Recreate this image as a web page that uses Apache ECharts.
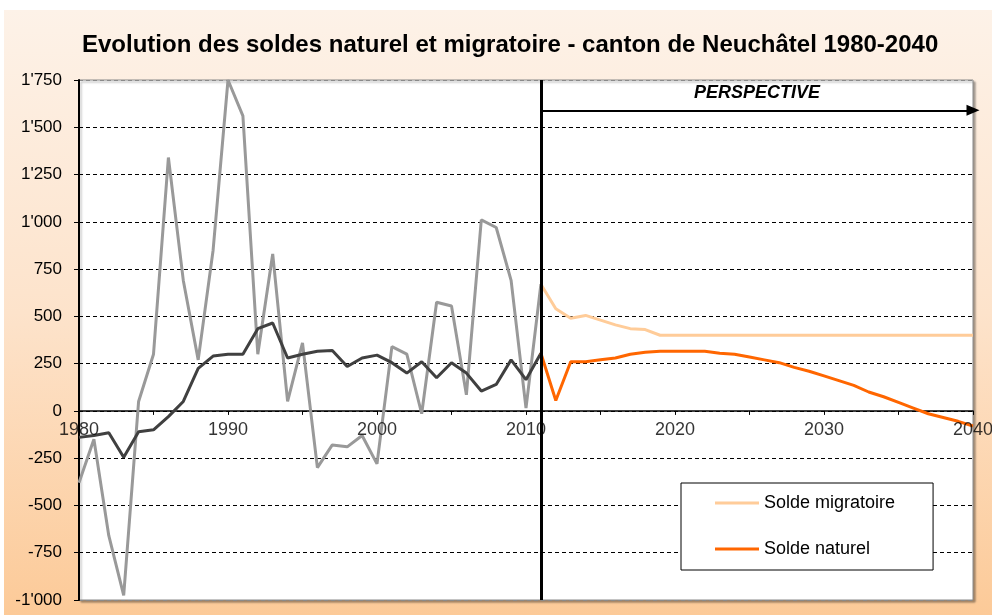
<!DOCTYPE html>
<html>
<head>
<meta charset="utf-8">
<script src="https://cdn.jsdelivr.net/npm/echarts@6/dist/echarts.min.js"></script>
<style>
html,body{margin:0;padding:0;background:#fff;}
#chart{position:absolute;left:4px;top:10px;width:988px;height:605px;
background:linear-gradient(to bottom,#fdf2e8 0%,#fde3cb 50%,#fcca98 100%);}
</style>
</head>
<body>
<div id="chart"></div>
<script>
// Historical years 1980-2011
var histYears = [1980,1981,1982,1983,1984,1985,1986,1987,1988,1989,1990,1991,1992,1993,1994,1995,1996,1997,1998,1999,2000,2001,2002,2003,2004,2005,2006,2007,2008,2009,2010,2011];
var histMigratoire = [-380,-150,-660,-975,50,300,1340,690,270,850,1750,1560,300,830,50,360,-300,-180,-190,-130,-280,340,300,-15,575,555,85,1010,970,690,15,670];
var histNaturel = [-140,-130,-115,-245,-110,-100,-30,50,225,290,300,300,435,465,280,300,315,320,235,280,295,255,200,260,175,255,200,105,140,270,165,305];

// Projection years 2011-2040
var projYears = [2011,2012,2013,2014,2015,2016,2017,2018,2019,2020,2021,2022,2023,2024,2025,2026,2027,2028,2029,2030,2031,2032,2033,2034,2035,2036,2037,2038,2039,2040];
var projMigratoire = [670,540,490,505,480,455,435,430,400,400,400,400,400,400,400,400,400,400,400,400,400,400,400,400,400,400,400,400,400,400];
var projNaturel = [305,55,260,260,270,280,300,310,315,315,315,315,305,300,285,270,255,230,210,185,160,135,100,75,45,15,-15,-35,-55,-80];

// Axis ticks / labels
var yTicks = {min:-1000, max:1750, interval:250};
var xTicks = {min:1980, max:2040, interval:5};
var xTickLabels = [1980,1990,2000,2010,2020,2030,2040];
var perspectiveStart = 2011;
var perspectiveLevel = 1590;

function pairs(xs, ys){ return xs.map(function(x,i){ return [x, ys[i]]; }); }
function fmtY(v){
  var s = Math.abs(v).toString();
  if (s.length > 3) s = s.slice(0, s.length-3) + "'" + s.slice(s.length-3);
  return (v < 0 ? '-' : '') + s;
}

var chart = echarts.init(document.getElementById('chart'), null, {renderer:'canvas'});
var font = 'Liberation Sans, Arial, sans-serif';
var gridColors = ['#8a8a8a','#000','#000','#000','#000','#000','#000','#000','#000','#000','#000'];

chart.setOption({
  backgroundColor: 'transparent',
  animation: false,
  title: {
    text: 'Evolution des soldes naturel et migratoire - canton de Neuchâtel 1980-2040',
    left: 73, top: 18,
    textStyle: {fontFamily: font, fontSize: 24, fontWeight: 'bold', color: '#000'}
  },
  grid: {
    left: 75, right: 19, top: 70, bottom: 15,
    outerBoundsMode: 'none', containLabel: false,
    show: true, backgroundColor: '#fff', borderColor: '#8a8a8a', borderWidth: 1,
    shadowColor: 'rgba(0,0,0,0.35)', shadowBlur: 2, shadowOffsetX: 2, shadowOffsetY: 2
  },
  legend: {
    orient: 'vertical', left: 677, top: 473,
    backgroundColor: '#fff', borderColor: '#000', borderWidth: 1, borderRadius: 0,
    padding: [9, 38, 10, 34], itemGap: 24, itemWidth: 44, itemHeight: 3,
    icon: 'rect',
    textStyle: {fontFamily: font, fontSize: 18, color: '#000', lineHeight: 22},
    data: ['Solde migratoire', 'Solde naturel']
  },
  xAxis: {
    type: 'value', min: xTicks.min, max: xTicks.max, interval: xTicks.interval,
    axisLine: {onZero: true, lineStyle: {color: '#000', width: 1.5}},
    axisTick: {show: true, inside: false, length: 4, lineStyle: {color: '#000', width: 1}},
    axisLabel: {show: false},
    splitLine: {show: false}
  },
  yAxis: {
    type: 'value', min: yTicks.min, max: yTicks.max, interval: yTicks.interval,
    axisLine: {show: true, onZero: false, lineStyle: {color: '#000', width: 2}},
    axisTick: {show: true, inside: false, length: 5, lineStyle: {color: '#000'}},
    axisLabel: {fontFamily: font, fontSize: 17, color: '#000', margin: 17, formatter: fmtY},
    splitLine: {show: true, lineStyle: {color: gridColors, type: [4, 3], width: 1}}
  },
  series: [
    {
      name: 'Solde migratoire historique', type: 'line', data: pairs(histYears, histMigratoire),
      symbol: 'none', lineStyle: {color: '#999999', width: 3}, itemStyle: {color: '#999999'}, z: 2
    },
    {
      name: 'Solde naturel historique', type: 'line', data: pairs(histYears, histNaturel),
      symbol: 'none', lineStyle: {color: '#404040', width: 3}, itemStyle: {color: '#404040'}, z: 3
    },
    {
      name: 'Solde migratoire', type: 'line', data: pairs(projYears, projMigratoire),
      symbol: 'none', lineStyle: {color: '#FFCC99', width: 3}, itemStyle: {color: '#FFCC99'}, z: 2
    },
    {
      name: 'Solde naturel', type: 'line', data: pairs(projYears, projNaturel),
      symbol: 'none', lineStyle: {color: '#FF6600', width: 3}, itemStyle: {color: '#FF6600'}, z: 3
    },
    {
      name: 'xLabels', type: 'scatter', z: 4, silent: true,
      data: xTickLabels.map(function(y){ return [y, 0]; }),
      symbol: 'circle', symbolSize: 1, itemStyle: {color: 'rgba(0,0,0,0)'},
      label: {show: true, position: 'bottom', distance: 10, formatter: function(p){ return String(p.value[0]); },
        fontFamily: font, fontSize: 18, color: '#000'},
      markLine: {
        silent: true, animation: false, symbol: ['none', 'none'],
        data: [
          {xAxis: perspectiveStart, lineStyle: {color: '#000', width: 3, type: 'solid'}, label: {show: false}},
          [
            {coord: [perspectiveStart, perspectiveLevel]},
            {coord: [xTicks.max, perspectiveLevel], symbol: 'triangle', symbolSize: [11, 13],
             lineStyle: {color: '#000', width: 2, type: 'solid'},
             label: {show: true, formatter: 'PERSPECTIVE', position: 'insideMiddleTop', distance: 8,
               fontFamily: font, fontSize: 18, fontWeight: 'bold', fontStyle: 'italic', color: '#000'}}
          ]
        ],
        lineStyle: {color: '#000', width: 2, type: 'solid'}
      }
    }
  ]
});
</script>
</body>
</html>
